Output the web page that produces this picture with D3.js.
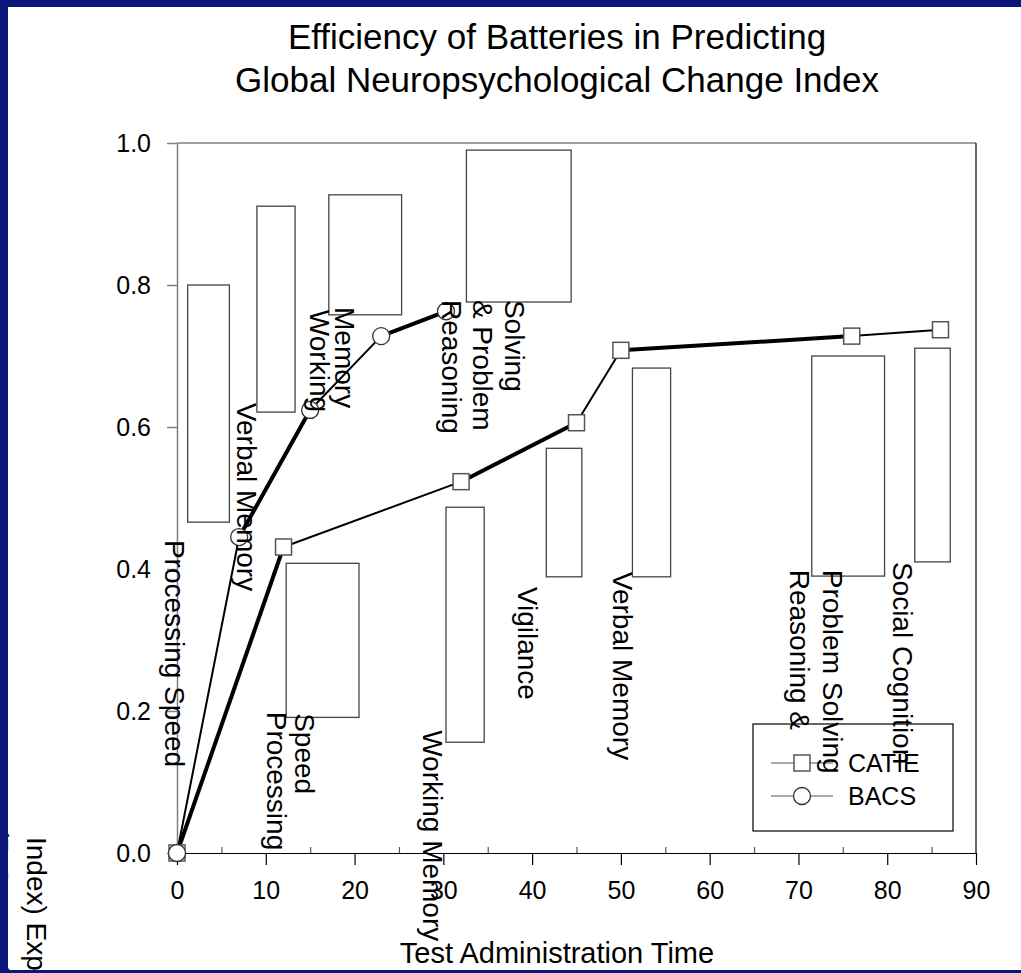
<!DOCTYPE html>
<html>
<head>
<meta charset="utf-8">
<script src="https://cdn.jsdelivr.net/npm/d3@7"></script>
<style>
	body { margin: 0; background: #0b177a; }
	svg { display: block; }
	text { font-family: "Liberation Sans", Arial, sans-serif; fill: #000; }
</style>
</head>
<body>
<svg id="chart" width="1021" height="973"></svg>
<script>
// values
const seriesNames = ["CATIE", "BACS"];
const catieTime = [0, 12, 32, 45, 50, 76, 86];
const catieR2 = [0, 0.431, 0.523, 0.606, 0.708, 0.728, 0.737];
const bacsTime = [0, 7, 15, 23, 30.3];
const bacsR2 = [0, 0.445, 0.624, 0.728, 0.763];

// floating boxes (time span, low/high R-squared)
const boxStart = [1.2, 9.0, 17.1, 32.6, 12.3, 30.3, 41.6, 51.3, 71.5, 83.1];
const boxEnd = [5.9, 13.3, 25.3, 44.4, 20.5, 34.6, 45.6, 55.6, 79.7, 87.1];
const boxLow = [0.466, 0.621, 0.758, 0.776, 0.191, 0.156, 0.389, 0.389, 0.390, 0.410];
const boxHigh = [0.800, 0.911, 0.927, 0.990, 0.408, 0.487, 0.570, 0.683, 0.700, 0.711];

// domain labels, one entry per text line (anchored in data units)
const labelText = ["Processing  Speed", "Verbal Memory", "Memory", "Working",
	"Solving", "& Problem", "Reasoning", "Speed", "Processing", "Working Memory",
	"Vigilance", "Verbal Memory", "Reasoning &", "Problem Solving", "Social  Cognition"];
const labelTime = [-1.35, 6.76, 17.8, 15.0, 36.9, 33.3, 29.8, 13.3, 10.1, 27.7,
	38.4, 49.1, 69.0, 72.8, 80.6];
const labelR2 = [0.441, 0.634, 0.769, 0.765, 0.779, 0.779, 0.779, 0.197, 0.199, 0.173,
	0.375, 0.396, 0.399, 0.399, 0.41];

const xTicks = [0, 10, 20, 30, 40, 50, 60, 70, 80, 90];
const xMinorTicks = [5, 15, 25, 35, 45, 55, 65, 75, 85];
const yTicks = [0, 0.2, 0.4, 0.6, 0.8, 1.0];
const yTickLabels = ["0.0", "0.2", "0.4", "0.6", "0.8", "1.0"];

const titleLines = ["Efficiency of Batteries in Predicting", "Global Neuropsychological Change Index"];
const xTitle = "Test Administration Time";
const yTitleLines = ["Index) Explained", "(R-Squared)"];

(function() {
	window.addEventListener("load", init);

	function init() {
		let svg = d3.select("#chart");

		// white slide panel, everything clipped to it
		svg.append("clipPath").attr("id", "panel-clip")
			.append("rect").attr("x", 8).attr("y", 7).attr("width", 1013).attr("height", 963);
		svg.append("rect")
			.attr("x", 8).attr("y", 7).attr("width", 1013).attr("height", 963)
			.attr("fill", "white");

		let g = svg.append("g").attr("clip-path", "url(#panel-clip)");

		let x = d3.scaleLinear().domain([0, 90]).range([177, 976]);
		let y = d3.scaleLinear().domain([0, 1]).range([853, 143]);

		drawTitle(g);
		drawAxes(g, x, y);
		drawBoxes(g, x, y);
		drawSeries(g, x, y, catieTime, catieR2, "square", true);
		drawSeries(g, x, y, bacsTime, bacsR2, "circle", false);
		drawLegend(g);
		drawLabels(g, x, y);
	}

	function drawTitle(g) {
		g.selectAll(".title")
			.data(titleLines)
			.enter()
			.append("text")
			.attr("class", "title")
			.attr("x", 557)
			.attr("y", (d, i) => 49 + i * 43)
			.attr("text-anchor", "middle")
			.style("font-size", "35px")
			.text(d => d);

		g.append("text")
			.attr("x", 557)
			.attr("y", 963)
			.attr("text-anchor", "middle")
			.style("font-size", "29px")
			.text(xTitle);

		// y title is pushed mostly off the slide, only its tail shows
		g.selectAll(".ytitle")
			.data(yTitleLines)
			.enter()
			.append("text")
			.attr("class", "ytitle")
			.attr("transform", (d, i) => "translate(" + (27 - i * 38) + "," + (837 - i * 9) + ") rotate(90)")
			.style("font-size", "28px")
			.text(d => d);
	}

	function drawAxes(g, x, y) {
		// top and right frame
		g.append("line")
			.attr("x1", x(0)).attr("x2", x(90)).attr("y1", y(1)).attr("y2", y(1))
			.attr("stroke", "#808080").attr("stroke-width", 1.5);
		g.append("line")
			.attr("x1", x(90)).attr("x2", x(90)).attr("y1", y(1)).attr("y2", y(0))
			.attr("stroke", "#000").attr("stroke-width", 1.2);

		let xAxis = g.append("g")
			.attr("transform", "translate(0," + y(0) + ")")
			.call(d3.axisBottom(x).tickValues(xTicks).tickSize(12).tickPadding(16).tickSizeOuter(0));
		xAxis.select(".domain").attr("stroke", "#000").attr("stroke-width", 1.2);
		xAxis.selectAll(".tick line").attr("stroke", "#000").attr("stroke-width", 1.2);
		xAxis.selectAll("text")
			.attr("fill", "#000")
			.style("font-size", "25px")
			.style("font-family", "'Liberation Sans', Arial, sans-serif");

		let xMinor = g.append("g")
			.attr("transform", "translate(0," + y(0) + ")")
			.call(d3.axisBottom(x).tickValues(xMinorTicks).tickSize(-6).tickFormat("").tickSizeOuter(0));
		xMinor.select(".domain").remove();
		xMinor.selectAll(".tick line").attr("stroke", "#555").attr("stroke-width", 1.2);

		let yAxis = g.append("g")
			.attr("transform", "translate(" + x(0) + ",0)")
			.call(d3.axisLeft(y).tickValues(yTicks)
				.tickFormat((d, i) => yTickLabels[i])
				.tickSize(10).tickPadding(16).tickSizeOuter(0));
		yAxis.select(".domain").attr("stroke", "#808080").attr("stroke-width", 1.5);
		yAxis.selectAll(".tick line").attr("stroke", "#808080").attr("stroke-width", 1.5);
		yAxis.selectAll("text")
			.attr("fill", "#000")
			.style("font-size", "25px")
			.style("font-family", "'Liberation Sans', Arial, sans-serif");
	}

	function drawBoxes(g, x, y) {
		g.selectAll(".box")
			.data(boxStart)
			.enter()
			.append("rect")
			.attr("class", "box")
			.attr("x", (d, i) => x(boxStart[i]))
			.attr("y", (d, i) => y(boxHigh[i]))
			.attr("width", (d, i) => x(boxEnd[i]) - x(boxStart[i]))
			.attr("height", (d, i) => y(boxLow[i]) - y(boxHigh[i]))
			.attr("fill", "none")
			.attr("stroke", "#444")
			.attr("stroke-width", 1.3);
	}

	function drawSeries(g, x, y, times, values, shape, thickFirst) {
		let pts = times.map((t, i) => [x(t), y(values[i])]);
		let segs = d3.pairs(pts);

		// the original line weight flips from segment to segment
		g.append("g")
			.selectAll("line")
			.data(segs)
			.enter()
			.append("line")
			.attr("x1", d => d[0][0]).attr("y1", d => d[0][1])
			.attr("x2", d => d[1][0]).attr("y2", d => d[1][1])
			.attr("stroke", "#000")
			.attr("stroke-width", (d, i) => ((i % 2 == 0) == thickFirst) ? 4 : 2);

		drawMarkers(g, pts, shape);
	}

	function drawMarkers(g, pts, shape) {
		let m = g.append("g").selectAll("." + shape).data(pts).enter();
		if (shape == "square") {
			m.append("rect")
				.attr("x", d => d[0] - 8).attr("y", d => d[1] - 8)
				.attr("width", 16).attr("height", 16)
				.attr("fill", "white").attr("stroke", "#555").attr("stroke-width", 1.5);
		} else {
			m.append("circle")
				.attr("cx", d => d[0]).attr("cy", d => d[1]).attr("r", 8.5)
				.attr("fill", "white").attr("stroke", "#333").attr("stroke-width", 1.3);
		}
	}

	function drawLegend(g) {
		g.append("rect")
			.attr("x", 753).attr("y", 724).attr("width", 200).attr("height", 107)
			.attr("fill", "white").attr("stroke", "#000").attr("stroke-width", 1.2);

		seriesNames.forEach(function(name, i) {
			let cy = 763 + i * 33;
			g.append("line")
				.attr("x1", 771).attr("x2", 833).attr("y1", cy).attr("y2", cy)
				.attr("stroke", "#555").attr("stroke-width", 1);
			drawMarkers(g, [[802, cy]], i == 0 ? "square" : "circle");
			g.append("text")
				.attr("x", 848).attr("y", cy + 9)
				.style("font-size", "25px")
				.text(name);
		});
	}

	function drawLabels(g, x, y) {
		g.selectAll(".domain-label")
			.data(labelText)
			.enter()
			.append("text")
			.attr("class", "domain-label")
			.attr("transform", (d, i) => "translate(" + x(labelTime[i]) + "," + y(labelR2[i]) + ") rotate(90)")
			.style("font-size", "28px")
			.text(d => d);
	}
})();
</script>
</body>
</html>
